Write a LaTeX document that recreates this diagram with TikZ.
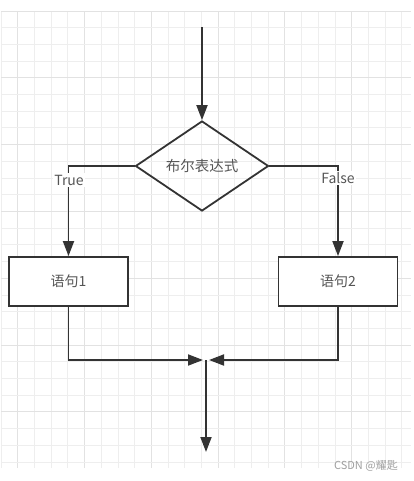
\documentclass[tikz,border=0pt]{standalone}
\usepackage{fontspec}
\setmainfont{Noto Sans CJK SC}
\usetikzlibrary{shapes.geometric,arrows.meta,calc}
\definecolor{linec}{HTML}{333333}
\definecolor{textc}{HTML}{555555}
\definecolor{gridminor}{HTML}{EEEEEE}
\definecolor{gridmajor}{HTML}{E2E2E2}
\tikzset{
  conn/.style={draw=linec, line width=1.8pt},
  arr/.style={conn, -{Triangle[length=15pt,width=11pt]}},
  stmt/.style={draw=linec, line width=1.8pt, rectangle, minimum width=119pt, minimum height=49pt, inner sep=0pt, text=textc, font=\fontsize{14pt}{16pt}\selectfont},
  cond/.style={draw=linec, line width=1.8pt, diamond, aspect=1.48, minimum width=133pt, minimum height=90pt, inner sep=0pt, text=textc, font=\fontsize{14.5pt}{16pt}\selectfont},
  lbl/.style={fill=white, inner sep=1.5pt, text=textc, font=\fontsize{14pt}{16pt}\selectfont},
  wm/.style={text=gray!75, inner sep=0pt, font=\fontsize{11pt}{13pt}\selectfont}
}
\begin{document}
\begin{tikzpicture}[x=1pt, y=-1pt]
\useasboundingbox (0,0) rectangle (413,481);
% grid
\foreach \k in {0,...,24} {
  \pgfmathsetmacro{\xx}{1+16.7*\k}
  \pgfmathtruncatemacro{\mm}{mod(\k,4)}
  \ifnum\mm=1 \draw[gridmajor, line width=0.9pt] (\xx,11) -- (\xx,468);
  \else \draw[gridminor, line width=0.8pt] (\xx,11) -- (\xx,468); \fi
}
\foreach \k in {0,...,27} {
  \pgfmathsetmacro{\yy}{11+16.7*\k}
  \pgfmathtruncatemacro{\mm}{mod(\k,4)}
  \ifnum\mm=0 \draw[gridmajor, line width=0.9pt] (1,\yy) -- (411,\yy);
  \else \draw[gridminor, line width=0.8pt] (1,\yy) -- (411,\yy); \fi
}
% nodes
\node[cond] (d) at (202,166) {布尔表达式};
\node[stmt, fill=white] (b1) at (68.5,281.5) {语句1};
\node[stmt, fill=white] (b2) at (338,281.5) {语句2};
\coordinate (start) at (202,27);
\coordinate (ml) at (203,360);
\coordinate (mr) at (209,360);
\coordinate (mtop) at (206,360);
\coordinate (end) at (206,452);
% connectors
\draw[arr] (start) -- (d.north);
\draw[arr] (d.west) -| (b1.north);
\draw[arr] (d.east) -| (b2.north);
\draw[arr] (b1.south) |- (ml);
\draw[arr] (b2.south) |- (mr);
\draw[arr] (mtop) -- (end);
% labels
\node[lbl] (t) at (69,180) {True};
\node[lbl] (f) at (338,178) {False};
\node[wm, anchor=east] (w) at (398,466) {CSDN @耀匙};
\end{tikzpicture}
\end{document}
